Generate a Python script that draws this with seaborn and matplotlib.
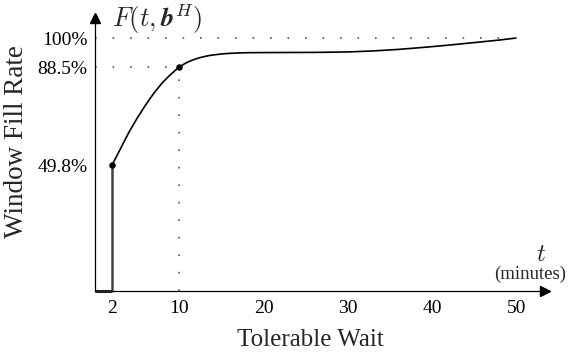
import matplotlib
matplotlib.use("Agg")
import matplotlib.pyplot as plt
import seaborn as sns
import pandas as pd

# ---- data ----
t_minutes = [2, 2.5, 3, 3.5, 4, 4.5, 5, 5.5, 6, 6.5, 7, 7.5, 8, 8.5, 9, 9.5, 10,
             10.5, 11, 11.5, 12, 12.5, 13, 13.5, 14, 15, 16, 17, 18, 20, 22, 26,
             30, 33, 36, 39, 42, 45, 48, 50]
fill_rate = [49.8, 53.0, 56.2, 59.5, 62.7, 65.6, 68.4, 71.0, 73.6, 76.0, 78.3, 80.4,
             82.4, 84.1, 85.7, 87.2, 88.5, 89.6, 90.5, 91.2, 91.8, 92.3, 92.7, 93.05,
             93.3, 93.7, 93.95, 94.1, 94.2, 94.25, 94.28, 94.32, 94.5, 94.9, 95.5,
             96.3, 97.2, 98.2, 99.2, 100.0]
key_t = [2, 10]
key_f = [49.8, 88.5]
x_ticks = [2, 10, 20, 30, 40, 50]
y_ticks = [49.8, 88.5, 100]
y_tick_labels = ["49.8%", "88.5%", "100%"]

sns.set_theme(style="white")
plt.rcParams["font.family"] = ["Liberation Serif", "DejaVu Serif"]
plt.rcParams["mathtext.fontset"] = "cm"

fig = plt.figure(figsize=(5.69, 3.54), dpi=100)
ax = fig.add_axes([0.1673, 0.178, 0.790, 0.771])

df = pd.DataFrame({"t": t_minutes, "F": fill_rate})
sns.lineplot(data=df, x="t", y="F", ax=ax, color="black", linewidth=1.2, sort=False)
sns.scatterplot(x=key_t, y=key_f, ax=ax, color="black", s=22, zorder=5, linewidth=0)
ax.set_xlabel("")
ax.set_ylabel("")

dot_style = (0, (1.0, 9.5))
# guide lines
ax.plot([0, 50], [100, 100], color="#555555", lw=1.2, linestyle=dot_style)
ax.plot([0, 10], [88.5, 88.5], color="#555555", lw=1.2, linestyle=dot_style)
ax.plot([10, 10], [0, 88.5], color="#555555", lw=1.2, linestyle=dot_style)

# step part of F
ax.plot([2, 2], [0, 49.8], color="#444444", lw=1.8, solid_capstyle="butt")
ax.plot([0, 2], [0, 0], color="#222222", lw=2.2, solid_capstyle="butt", zorder=6, clip_on=False)

ax.set_xlim(0, 53.4)
ax.set_ylim(0, 107.9)

for side in ["top", "right"]:
    ax.spines[side].set_visible(False)
for side in ["left", "bottom"]:
    ax.spines[side].set_color("black")
    ax.spines[side].set_linewidth(0.9)

# arrow heads
ax.plot(1, 0, ">", transform=ax.transAxes, color="black", markersize=7, clip_on=False)
ax.plot(0, 1, "^", transform=ax.transAxes, color="black", markersize=7, clip_on=False)

ax.set_xticks(x_ticks)
ax.set_xticklabels([str(v) for v in x_ticks])
ax.set_yticks(y_ticks)
ax.set_yticklabels(y_tick_labels)
ax.tick_params(axis="both", direction="inout", length=7, width=0.9, color="black",
               labelsize=14, labelcolor="black", pad=2)
ax.tick_params(axis="x", pad=3)

fig.text(310 / 569, 1 - 340 / 354, "Tolerable Wait", fontsize=18, ha="center", va="center")
fig.text(17 / 569, 1 - 142 / 354, "Window Fill Rate", fontsize=19.5, ha="center",
         va="center", rotation=90)

try:
    ftxt = r"$F(t,\mathbfit{b}^H)$"
    fig.text(0.197, 0.948, ftxt, fontsize=19, ha="left", va="center")
    fig.canvas.draw()
except Exception:
    for tx in list(fig.texts[2:]):
        tx.remove()
    ftxt = r"$F(t,\mathbf{b}^H)$"
    fig.text(0.197, 0.948, ftxt, fontsize=19, ha="left", va="center")

fig.text(0.951, 1 - 255 / 354, r"$t$", fontsize=18, ha="center", va="center")
fig.text(530 / 569, 1 - 274 / 354, "(minutes)", fontsize=13.5, ha="center", va="center")

fig.savefig("out.png", dpi=100)
